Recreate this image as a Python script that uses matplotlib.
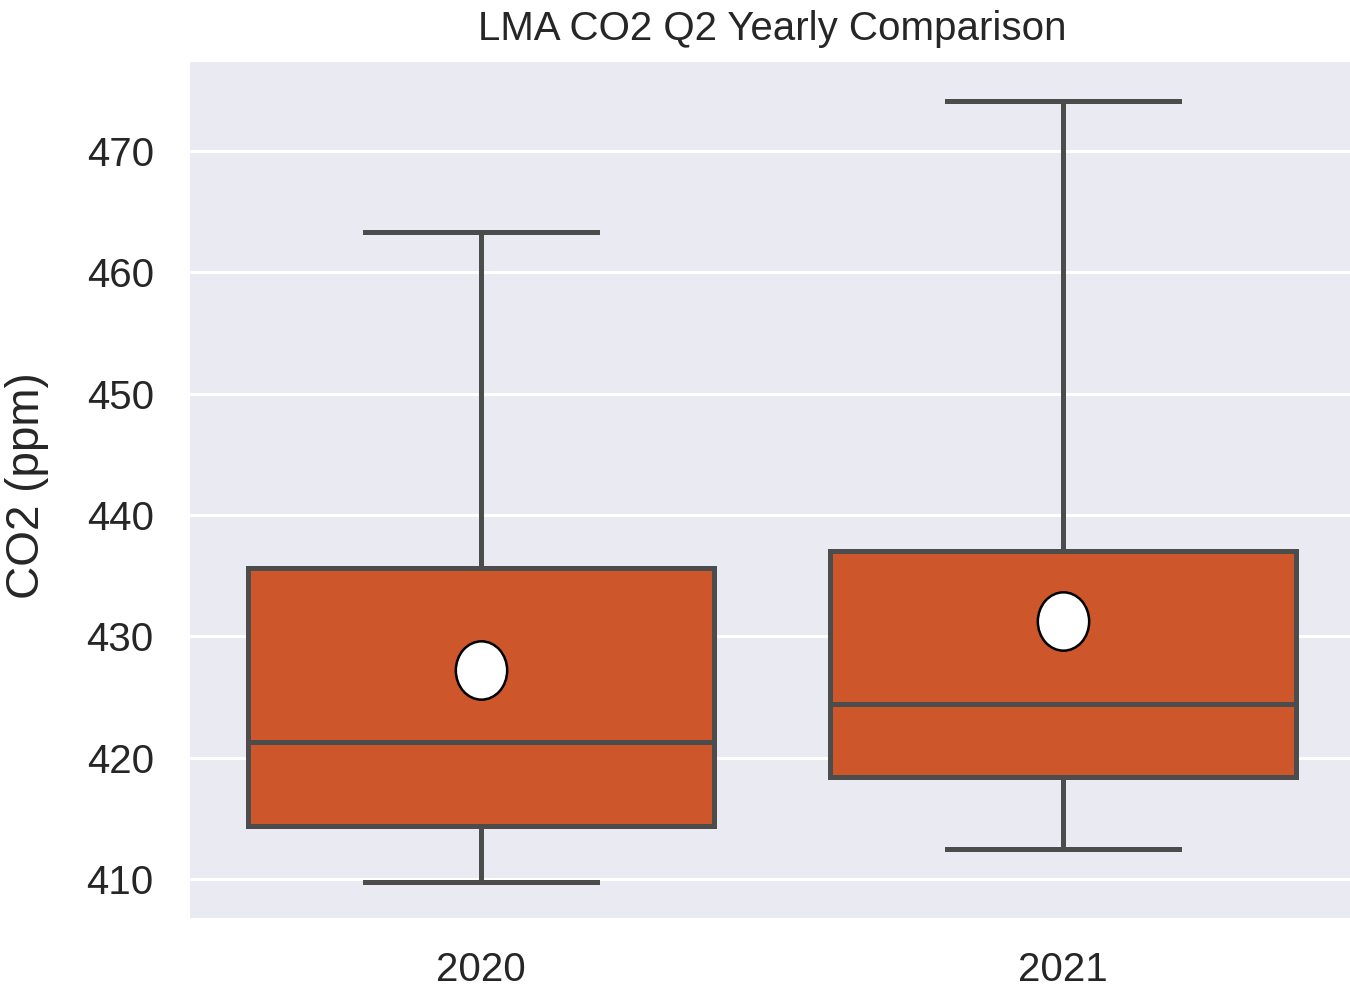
"""Yearly Q2 CO2 box plot for LMA."""
import matplotlib.pyplot as plt
from matplotlib.path import Path
from matplotlib.transforms import Affine2D

years = ["2020", "2021"]
whislo = [409.8, 412.5]
q1 = [414.4, 418.4]
med = [421.3, 424.4]
q3 = [435.6, 437.0]
whishi = [463.3, 474.1]
means = [427.2, 431.3]

yticks = [410, 420, 430, 440, 450, 460, 470]

BOX_COLOR = "#cd562a"
LINE_COLOR = "#4c4c4c"

plt.rcParams["font.family"] = ["Liberation Sans", "DejaVu Sans"]

stats = [
    {"label": y, "whislo": lo, "q1": a, "med": m, "q3": b, "whishi": hi, "mean": mu, "fliers": []}
    for y, lo, a, m, b, hi, mu in zip(years, whislo, q1, med, q3, whishi, means)
]

# slightly taller-than-wide marker for the mean
ellipse = Path.unit_circle().transformed(Affine2D().scale(0.88, 1.0))

fig = plt.figure(figsize=(13.5, 9.94), dpi=100)
ax = fig.add_axes([0.1407, 0.0765, 0.8622, 0.861])
ax.set_facecolor("#eaeaf2")
for s in ax.spines.values():
    s.set_visible(False)
ax.grid(axis="y", color="white", linewidth=2.2, zorder=0)
ax.set_axisbelow(True)

line_kw = dict(color=LINE_COLOR, linewidth=3.6)
ax.bxp(
    stats,
    positions=range(len(years)),
    widths=0.8,
    patch_artist=True,
    showmeans=True,
    boxprops=dict(facecolor=BOX_COLOR, edgecolor=LINE_COLOR, linewidth=3.6),
    medianprops=line_kw,
    whiskerprops=line_kw,
    capprops=line_kw,
    meanprops=dict(marker=ellipse, markerfacecolor="white", markeredgecolor="black",
                   markeredgewidth=1.8, markersize=42),
)

ax.set_xlim(-0.5, 1.5)
ax.set_ylim(406.8, 477.3)
ax.set_yticks(yticks)
ax.set_xticks(range(len(years)))
ax.set_xticklabels(years)
ax.tick_params(axis="both", length=0, labelsize=29, labelcolor="#262626")
ax.tick_params(axis="y", pad=26)
ax.tick_params(axis="x", pad=24)

ax.set_title("LMA CO2 Q2 Yearly Comparison", fontsize=29, color="#262626", pad=16)
ax.set_ylabel("CO2 (ppm)", fontsize=33, color="#262626")
ax.yaxis.set_label_coords(-0.121, 0.505)

fig.savefig("out.png", dpi=100)
plt.close(fig)
